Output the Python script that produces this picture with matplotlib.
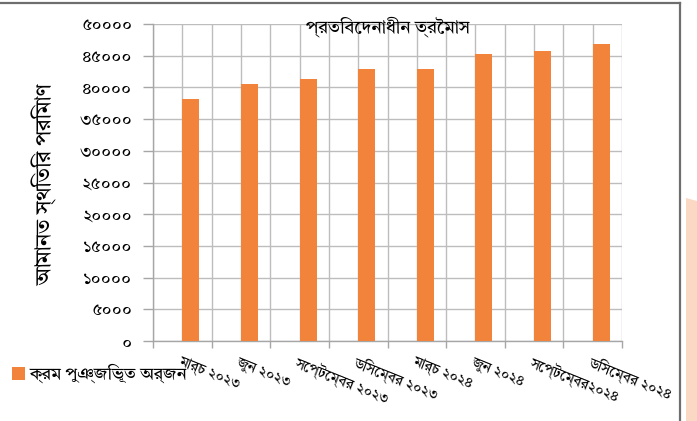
import matplotlib
matplotlib.use("Agg")
import matplotlib.pyplot as plt
from matplotlib.patches import Rectangle, Polygon
from matplotlib.lines import Line2D

FONT = ["Tiro Bangla", "Noto Sans Bengali", "DejaVu Sans"]
plt.rcParams["font.family"] = FONT

categories = ["মার্চ ২০২৩", "জুন ২০২৩", "সেপ্টেম্বর ২০২৩", "ডিসেম্বর ২০২৩",
              "মার্চ ২০২৪", "জুন ২০২৪", "সেপ্টেম্বর২০২৪", "ডিসেম্বর ২০২৪"]
values = [38200, 40500, 41400, 42900, 42900, 45300, 45700, 46900]
yticks = [0, 5000, 10000, 15000, 20000, 25000, 30000, 35000, 40000, 45000, 50000]
series_name = "ক্রম পুঞ্জিভূত অর্জন"
x_title = "প্রতিবেদনাধীন ত্রৈমাস"
y_title = "আমানত স্থিতির পরিমাণ"

BN = str.maketrans("0123456789", "০১২৩৪৫৬৭৮৯")
ytick_labels = [str(v).translate(BN) for v in yticks]

W, H = 697, 421
fig = plt.figure(figsize=(W / 100, H / 100), dpi=100)
ax = fig.add_axes([153 / W, 1 - 341 / H, (622 - 153) / W, (341 - 24) / H])

n = len(categories)
xs = list(range(n))
bar_color = "#F1833B"
ax.bar(xs, values, width=0.29, align="edge", color=bar_color, zorder=3)

ax.set_xlim(-0.5, n - 0.5)
ax.set_ylim(0, 50000)
ax.set_yticks(yticks)
ax.set_yticklabels(ytick_labels, fontsize=12.5)

# major ticks at category boundaries, minor at centres carry labels
ax.set_xticks([i - 0.5 for i in range(n + 1)])
ax.set_xticklabels([])
ax.set_xticks(xs, minor=True)
ax.set_xticklabels(categories, minor=True, rotation=-22, ha="left", va="top",
                   rotation_mode="anchor", fontsize=10.5)
ax.tick_params(axis="x", which="minor", length=0, pad=9)
ax.tick_params(axis="x", which="major", length=5, color="#A6A6A6", width=1)
ax.tick_params(axis="y", length=7, color="#A6A6A6", width=1, pad=8)

grid_c = "#BDBDBD"
ax.grid(True, which="major", axis="both", color=grid_c, linewidth=1, zorder=0)
ax.grid(True, which="minor", axis="x", color=grid_c, linewidth=1, zorder=0)
ax.set_axisbelow(True)
for s in ["top", "right"]:
    ax.spines[s].set_visible(False)
for s in ["left", "bottom"]:
    ax.spines[s].set_color("#A6A6A6")
    ax.spines[s].set_linewidth(1)

fig.text(388 / W, 1 - 27 / H, x_title, ha="center", va="center", fontsize=13)
fig.text(45 / W, 1 - 185 / H, y_title, ha="center", va="center", rotation=90, fontsize=15.5)

# legend
fig.patches.append(Rectangle((12 / W, 1 - 380 / H), 13 / W, 13 / H, transform=fig.transFigure,
                             facecolor=bar_color, edgecolor="none"))
fig.text(30 / W, 1 - 373 / H, series_name, ha="left", va="center", fontsize=12.5)

# outer frame pieces of the screenshot
fig.lines.append(Line2D([0, 680 / W], [1 - 2.5 / H, 1 - 2.5 / H], transform=fig.transFigure,
                        color="#6E6E6E", linewidth=1.6))
fig.lines.append(Line2D([680 / W, 680 / W], [1 - 2.5 / H, 0], transform=fig.transFigure,
                        color="#6E6E6E", linewidth=1.6))
fig.patches.append(Polygon([(686 / W, 1 - 198 / H), (697 / W, 1 - 201 / H), (697 / W, 0), (686 / W, 0)],
                           closed=True, transform=fig.transFigure, facecolor="#FAD8C4", edgecolor="none"))

fig.savefig("out.png", dpi=100)
